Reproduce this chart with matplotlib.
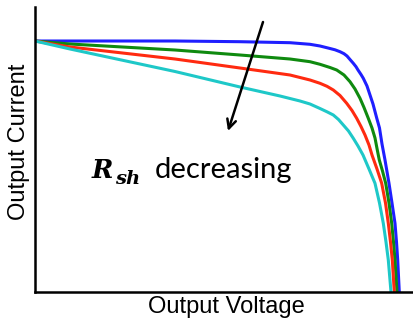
import numpy as np
import matplotlib
matplotlib.use('Agg')
import matplotlib.pyplot as plt

# I-V curves (arbitrary units, no ticks on the axes)
v_blue = [0, 140, 205, 255, 275, 285, 295, 300, 305, 309, 312, 315, 318.3, 321, 323, 326, 328.3, 332, 335, 338, 341.7, 344.5, 347, 350, 354, 357, 360, 361.5, 362.7, 364.3]
i_blue = [251, 251, 250.3, 249.3, 247.7, 246, 243.5, 242.2, 240.3, 238.3, 236, 232.5, 228.7, 225.3, 222, 217.5, 213.7, 206, 197, 188, 174, 164, 148, 132, 108.7, 89, 68.7, 50, 32, 0]

v_green = [0, 35, 140, 205, 255, 275, 285, 295, 301.7, 309, 315, 320, 325, 329, 333.3, 337, 340, 342.3, 344.3, 347.5, 350.7, 354, 356.7, 358.5, 360, 362]
i_green = [251, 248, 242, 237, 233, 230.3, 227.7, 224.5, 222, 217, 210.3, 203, 193.7, 184.5, 173.7, 164, 154, 142, 132, 121, 108.7, 89, 68.7, 50, 32, 0]

v_red = [0, 35, 140, 205, 255, 275, 285, 292, 298.3, 305, 311.7, 317, 321.7, 326, 330, 334, 337, 342, 346.7, 350.5, 353.3, 355.5, 357.3, 359.3]
i_red = [251, 245, 233, 224, 217, 212, 208.7, 205.7, 202, 196.5, 188.7, 181.5, 173.7, 165.5, 157, 147, 137, 123, 108.7, 89, 68.7, 50, 32, 0]

v_cyan = [0, 35, 140, 205, 225, 245, 255, 265, 275, 285, 292, 298.3, 303.5, 308.3, 313.5, 318.3, 323, 328, 334, 340, 344.5, 348.3, 351, 353.3, 356]
i_cyan = [251, 243, 220.5, 205, 200.5, 196, 193.5, 191, 188, 183.5, 180.2, 177, 172.5, 167, 161, 153.7, 146, 137, 123, 108.7, 89, 68.7, 50, 32, 0]

fig = plt.figure(figsize=(4.14, 3.20), dpi=100)
ax = fig.add_axes([35/414, 28/320, 379/414, 285/320])

lw = 2.2
ax.plot(v_blue, i_blue, color='#1f1fff', lw=lw, solid_joinstyle='round')
ax.plot(v_green, i_green, color='#0f8a0f', lw=lw, solid_joinstyle='round')
ax.plot(v_red, i_red, color='#ff2a10', lw=lw, solid_joinstyle='round')
ax.plot(v_cyan, i_cyan, color='#1ec8c8', lw=lw, solid_joinstyle='round')

ax.set_xlim(0, 379)
ax.set_ylim(0, 285)
ax.spines['top'].set_visible(False)
ax.spines['right'].set_visible(False)
ax.spines['left'].set_linewidth(1.8)
ax.spines['bottom'].set_linewidth(1.8)
ax.set_xticks([])
ax.set_yticks([])

# arrow + annotation
ax.annotate('', xy=(193, 161), xytext=(228, 270),
            arrowprops=dict(arrowstyle='->', lw=1.8, color='black',
                            shrinkA=0, shrinkB=0, mutation_scale=16))
ax.text(57, 114, 'R', fontsize=18.5, family='DejaVu Serif', fontweight='bold',
        fontstyle='italic', va='baseline', ha='left')
ax.text(80, 108, 'sh', fontsize=14, family='DejaVu Serif', fontweight='bold',
        fontstyle='italic', va='baseline', ha='left')
ax.text(120, 114, 'decreasing', fontsize=21, family='Lato',
        va='baseline', ha='left')

fig.text(226/414, 1 - 307/320, 'Output Voltage', fontsize=17,
         family='Liberation Sans', ha='center', va='center')
fig.text(19/414, 1 - 142/320, 'Output Current', fontsize=17,
         family='Liberation Sans', ha='center', va='center', rotation=90)

fig.savefig('out.png', dpi=100)
